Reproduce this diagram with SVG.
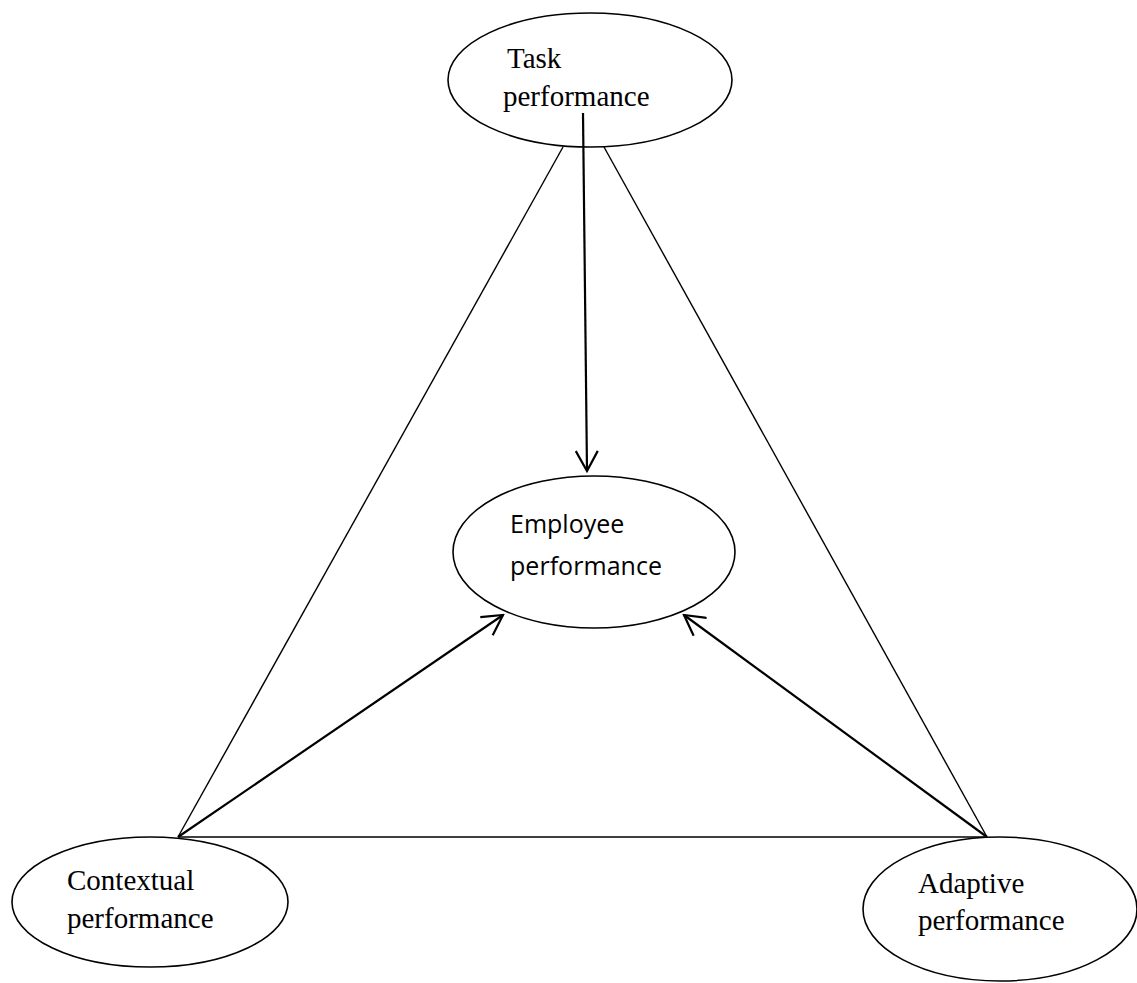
<svg xmlns="http://www.w3.org/2000/svg" width="1137" height="983" viewBox="0 0 1137 983">
<defs>
<marker id="open" viewBox="0 0 24 24" refX="22" refY="12" markerWidth="24" markerHeight="24" markerUnits="userSpaceOnUse" orient="auto">
<path d="M2,1 L22,12 L2,23" fill="none" stroke="#000" stroke-width="2.2"/>
</marker>
</defs>
<style>
.node{fill:#fff;stroke:#000;stroke-width:1.6}
.serif{font-family:"Liberation Serif","Times New Roman",serif;font-size:29px;fill:#000}
.sans{font-family:"Open Sans","Noto Sans",sans-serif;font-size:25px;fill:#000}
.line{stroke:#000;stroke-width:1.4;fill:none}
.arrow{stroke:#000;stroke-width:2.2;fill:none;marker-end:url(#open)}
</style>
<rect width="1137" height="983" fill="#fff"/>
<g id="connectors">
<line class="line" x1="563" y1="147" x2="178" y2="837"/>
<line class="line" x1="604" y1="147" x2="987" y2="837"/>
<line class="line" x1="178" y1="837" x2="987" y2="837"/>
<line class="arrow" x1="583" y1="113" x2="587" y2="471"/>
<line class="arrow" x1="178" y1="837" x2="503" y2="615"/>
<line class="arrow" x1="987" y1="837" x2="684" y2="615"/>
</g>
<g id="task">
<ellipse class="node" cx="590" cy="80" rx="142" ry="67" style="fill:none"/>
<text class="serif" x="507" y="68">Task</text>
<text class="serif" x="503" y="106">performance</text>
</g>
<g id="employee">
<ellipse class="node" cx="594" cy="552" rx="141" ry="76"/>
<text class="sans" x="510" y="533">Employee</text>
<text class="sans" x="510" y="575" textLength="152">performance</text>
</g>
<g id="contextual">
<ellipse class="node" cx="150" cy="902" rx="138" ry="65"/>
<text class="serif" x="67" y="890">Contextual</text>
<text class="serif" x="67" y="928">performance</text>
</g>
<g id="adaptive">
<ellipse class="node" cx="1000" cy="909" rx="137" ry="72"/>
<text class="serif" x="918" y="893">Adaptive</text>
<text class="serif" x="918" y="930">performance</text>
</g>
</svg>
